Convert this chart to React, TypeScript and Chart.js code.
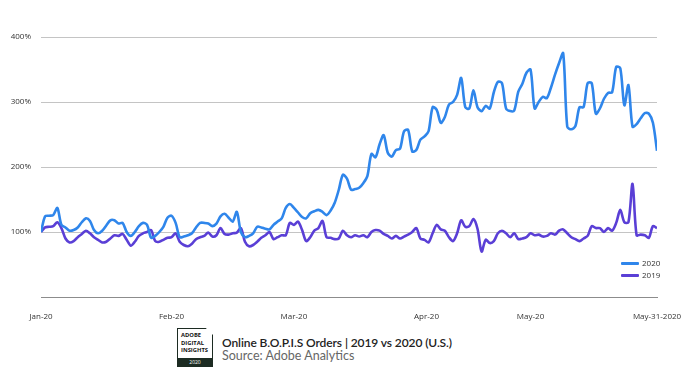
import React, { useEffect, useRef } from "react";
import { Chart, registerables } from "chart.js";

Chart.register(...registerables);

// Daily index 0 = Jan 1 2020 ... 151 = May 31 2020 (percent of baseline)
const series2020: number[] = [
  100, 124, 125, 126, 137, 111, 107, 102, 103, 107,
  115, 121, 117, 103, 98, 102, 110, 118, 118, 113,
  114, 100, 94, 100, 109, 114, 111, 91, 94, 100,
  108, 122, 125, 114, 92, 93, 95, 98, 107, 114,
  114, 113, 109, 113, 124, 128, 122, 116, 131, 100,
  92, 94, 98, 108, 107, 105, 104, 111, 116, 121,
  137, 143, 137, 130, 123, 121, 129, 132, 134, 131,
  126, 133, 145, 165, 188, 182, 165, 166, 168, 175,
  186, 220, 215, 235, 249, 222, 216, 226, 228, 255,
  257, 224, 226, 242, 247, 255, 292, 288, 268, 277,
  296, 300, 311, 337, 292, 290, 318, 292, 286, 294,
  290, 315, 331, 329, 290, 286, 287, 316, 328, 345,
  350, 290, 300, 308, 306, 322, 342, 360, 375, 262,
  258, 263, 292, 292, 329, 329, 282, 290, 305, 314,
  315, 354, 352, 295, 326, 262, 266, 275, 283, 282,
  268, 225,
];

const series2019: number[] = [
  100, 107, 108, 109, 115, 106, 90, 84, 86, 92,
  97, 102, 98, 92, 88, 84, 85, 90, 95, 94,
  97, 88, 79, 85, 94, 98, 100, 103, 86, 85,
  88, 91, 92, 98, 85, 80, 78, 82, 89, 92,
  94, 99, 93, 95, 106, 97, 96, 98, 99, 106,
  85, 78, 80, 85, 91, 95, 100, 89, 92, 95,
  95, 114, 111, 116, 103, 86, 92, 102, 106, 117,
  92, 91, 89, 90, 102, 95, 92, 95, 93, 95,
  92, 100, 103, 102, 97, 94, 90, 94, 90, 93,
  96, 100, 106, 90, 88, 84, 98, 111, 104, 102,
  92, 86, 98, 118, 108, 109, 120, 105, 70, 88,
  83, 86, 98, 102, 98, 92, 98, 89, 90, 92,
  98, 95, 96, 93, 94, 98, 96, 102, 104, 98,
  92, 89, 86, 90, 94, 109, 106, 106, 100, 106,
  102, 114, 134, 115, 115, 174, 95, 96, 95, 91,
  109, 106,
];

const seriesNames = ["2020", "2019"];
const seriesColors = ["#2f86eb", "#5a3fd6"];

const tickDays = [0, 32, 62, 94.5, 120, 151];
const tickLabels = ["Jan-20", "Feb-20", "Mar-20", "Apr-20", "May-20", "May-31-2020"];
const yTickValues = [0, 100, 200, 300, 400];

const titleText = "Online B.O.P.I.S Orders | 2019 vs 2020 (U.S.)";
const sourceText = "Source: Adobe Analytics";
const logoLines = ["ADOBE", "DIGITAL", "INSIGHTS"];
const logoYear = "2020";

const FONT = "'Open Sans', 'Noto Sans', sans-serif";

export default function App() {
  const canvasRef = useRef<HTMLCanvasElement | null>(null);

  useEffect(() => {
    const canvas = canvasRef.current;
    if (!canvas) return;
    const allSeries = [series2020, series2019];
    const chart = new Chart(canvas, {
      type: "line",
      data: {
        datasets: allSeries.map((s, k) => ({
          label: seriesNames[k],
          data: s.map((v, i) => ({ x: i, y: v })),
          borderColor: seriesColors[k],
          backgroundColor: seriesColors[k],
          borderWidth: 2.6,
          pointRadius: 0,
          tension: 0.3,
          fill: false,
        })),
      },
      options: {
        responsive: false,
        animation: false,
        devicePixelRatio: 1,
        layout: { padding: { top: 37, right: 42, left: 0, bottom: 0 } },
        plugins: { legend: { display: false }, tooltip: { enabled: false } },
        scales: {
          x: {
            type: "linear",
            min: 0,
            max: 151,
            grid: { display: false, drawTicks: false },
            border: { display: true, color: "#8c8c8c", width: 1 },
            ticks: {
              autoSkip: false,
              maxRotation: 0,
              padding: 15,
              color: "#333",
              font: { family: FONT, size: 8 },
              callback: (v: any) => {
                const k = tickDays.indexOf(Number(v));
                return k >= 0 ? tickLabels[k] : "";
              },
            },
            afterBuildTicks: (s: any) => {
              s.ticks = tickDays.map((v) => ({ value: v }));
            },
            afterFit: (s: any) => {
              s.height = 33;
            },
          },
          y: {
            min: 0,
            max: 400,
            grid: {
              drawTicks: false,
              color: (c: any) => (c.tick && c.tick.value === 0 ? "#8c8c8c" : "#c4c4c4"),
              lineWidth: 1,
            },
            border: { display: false },
            ticks: {
              padding: 10,
              color: "#333",
              font: { family: FONT, size: 8 },
              callback: (v: any) => (Number(v) === 0 ? "" : v + "%"),
            },
            afterBuildTicks: (s: any) => {
              s.ticks = yTickValues.map((v) => ({ value: v }));
            },
            afterFit: (s: any) => {
              s.width = 41;
            },
          },
        },
      },
    } as any);
    return () => chart.destroy();
  }, []);

  return (
    <div
      style={{
        position: "absolute",
        left: 0,
        top: 0,
        width: 699,
        height: 377,
        background: "#fff",
        overflow: "hidden",
        fontFamily: FONT,
      }}
    >
      <canvas ref={canvasRef} width={699} height={330} style={{ position: "absolute", left: 0, top: 0 }} />
      {/* legend */}
      {seriesNames.map((n, k) => (
        <div
          key={n}
          style={{ position: "absolute", left: 621, top: 257 + k * 12, height: 12, display: "flex", alignItems: "center" }}
        >
          <div style={{ width: 18, height: 3, background: seriesColors[k], borderRadius: 1 }} />
          <span style={{ marginLeft: 3, fontSize: 8, color: "#333", lineHeight: "12px" }}>{n}</span>
        </div>
      ))}
      {/* logo */}
      <div
        style={{
          position: "absolute",
          left: 177,
          top: 328,
          width: 36,
          height: 39,
          boxSizing: "border-box",
          border: "1.5px solid #1c2b22",
          background: "#fff",
          clipPath: "polygon(0 0, 80% 0, 100% 18%, 100% 100%, 0 100%)",
        }}
      >
        <div style={{ position: "absolute", left: 3, top: 3, fontSize: 5.8, fontWeight: 700, lineHeight: "7.5px", color: "#111", fontFamily: "'Open Sans', sans-serif" }}>
          {logoLines.map((l) => (
            <div key={l}>{l}</div>
          ))}
        </div>
        <div
          style={{
            position: "absolute",
            left: 0,
            right: 0,
            bottom: 0,
            height: 8,
            background: "#1c2b22",
            color: "#fff",
            fontSize: 5,
            lineHeight: "8px",
            textAlign: "center",
          }}
        >
          {logoYear}
        </div>
      </div>
      <div
        style={{
          position: "absolute",
          left: 222,
          top: 335,
          fontSize: 12,
          letterSpacing: -0.1,
          fontWeight: 600,
          color: "#222",
          whiteSpace: "nowrap",
          lineHeight: "16px",
          fontFamily: "Lato, 'Open Sans', sans-serif",
        }}
      >
        {titleText}
      </div>
      <div
        style={{
          position: "absolute",
          left: 222,
          top: 348,
          fontSize: 12.5,
          color: "#666",
          whiteSpace: "nowrap",
          lineHeight: "16px",
          fontFamily: "Lato, 'Open Sans', sans-serif",
        }}
      >
        {sourceText}
      </div>
    </div>
  );
}
